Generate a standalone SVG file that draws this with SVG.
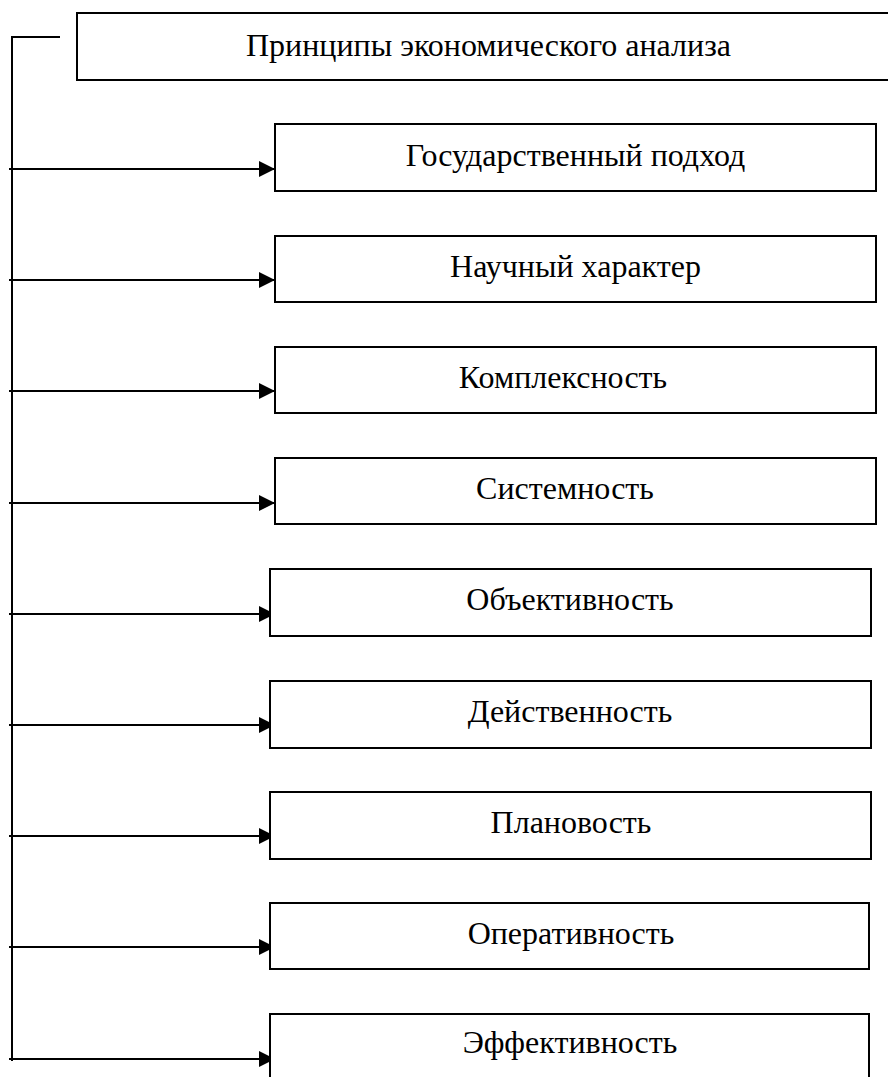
<svg xmlns="http://www.w3.org/2000/svg" width="888" height="1077" viewBox="0 0 888 1077">
<defs>
<marker id="ah" markerWidth="17" markerHeight="17" refX="16" refY="8" orient="auto" markerUnits="userSpaceOnUse">
<path d="M0,0 L16,8 L0,16 Z" fill="#000"/>
</marker>
<style>
.box{fill:#fff;stroke:#000;stroke-width:2}
.t{font-family:"Liberation Serif","Times New Roman",serif;font-size:32px;fill:#000;text-anchor:middle}
.c{stroke:#000;stroke-width:2;fill:none}
</style>
</defs>
<rect width="888" height="1077" fill="#fff"/>
<g id="connectors">
<polyline class="c" points="60,37 12,37 12,1061"/>
<line class="c" x1="9" y1="169" x2="275" y2="169" marker-end="url(#ah)"/>
<line class="c" x1="9" y1="280" x2="275" y2="280" marker-end="url(#ah)"/>
<line class="c" x1="9" y1="391" x2="275" y2="391" marker-end="url(#ah)"/>
<line class="c" x1="9" y1="503" x2="275" y2="503" marker-end="url(#ah)"/>
<line class="c" x1="9" y1="614" x2="275" y2="614" marker-end="url(#ah)"/>
<line class="c" x1="9" y1="725" x2="275" y2="725" marker-end="url(#ah)"/>
<line class="c" x1="9" y1="836" x2="275" y2="836" marker-end="url(#ah)"/>
<line class="c" x1="9" y1="947" x2="275" y2="947" marker-end="url(#ah)"/>
<line class="c" x1="9" y1="1059" x2="275" y2="1059" marker-end="url(#ah)"/>
</g>
<g id="title"><rect class="box" x="77" y="13" width="830" height="67"/><text class="t" x="488.5" y="56">Принципы экономического анализа</text></g>
<g id="n1"><rect class="box" x="275" y="124" width="601" height="67"/><text class="t" x="575.5" y="166">Государственный подход</text></g>
<g id="n2"><rect class="box" x="275" y="236" width="601" height="66"/><text class="t" x="575.5" y="277">Научный характер</text></g>
<g id="n3"><rect class="box" x="275" y="347" width="601" height="66"/><text class="t" x="563" y="388">Комплексность</text></g>
<g id="n4"><rect class="box" x="275" y="458" width="601" height="66"/><text class="t" x="565" y="499">Системность</text></g>
<g id="n5"><rect class="box" x="270" y="569" width="601" height="67"/><text class="t" x="570" y="610">Объективность</text></g>
<g id="n6"><rect class="box" x="270" y="681" width="601" height="67"/><text class="t" x="570" y="722">Действенность</text></g>
<g id="n7"><rect class="box" x="270" y="792" width="601" height="67"/><text class="t" x="571" y="833">Плановость</text></g>
<g id="n8"><rect class="box" x="270" y="903" width="599" height="66"/><text class="t" x="571" y="944">Оперативность</text></g>
<g id="n9"><rect class="box" x="270" y="1014" width="599" height="80"/><text class="t" x="570" y="1053">Эффективность</text></g>
</svg>
